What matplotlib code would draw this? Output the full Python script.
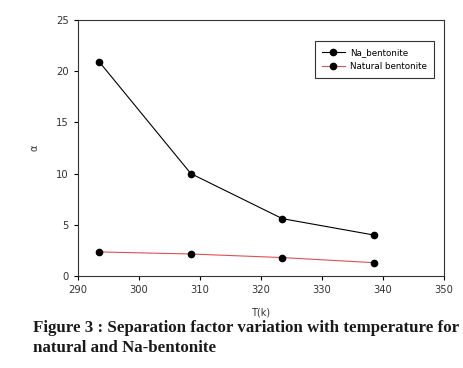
# Separation factor vs temperature

import numpy as np
import matplotlib.pyplot as plt

# data
T = [293.5, 308.5, 323.5, 338.5]
na_bentonite = [20.9, 10.0, 5.6, 4.0]
natural_bentonite = [2.35, 2.15, 1.8, 1.3]

fig = plt.figure(figsize=(4.63, 3.68), dpi=100)
ax = fig.add_axes([78/463, 1 - 276/368, (444-78)/463, (276-20)/368])

ax.plot(T, na_bentonite, color='black', lw=0.8, marker='o', ms=4.5,
        mfc='black', mec='black', label='Na_bentonite')
ax.plot(T, natural_bentonite, color='#e05050', lw=0.8, marker='o', ms=4.5,
        mfc='black', mec='black', label='Natural bentonite')

ax.set_xlim(290, 350)
ax.set_ylim(0, 25)
ax.set_xticks(np.arange(290, 351, 10))
ax.set_yticks(np.arange(0, 26, 5))
ax.tick_params(direction='out', length=3, width=0.8, labelsize=7.2, labelcolor='#333333')
for s in ax.spines.values():
    s.set_linewidth(0.8)
    s.set_color('#333333')

ax.set_xlabel('T(k)', fontsize=7, color='#333333', labelpad=9)
ax.set_ylabel('α', fontsize=7, color='#333333', labelpad=12)

leg = ax.legend(loc='upper right', bbox_to_anchor=(0.984, 0.934), fontsize=6.3,
                fancybox=False, framealpha=1, edgecolor='#333333',
                handlelength=2.6, handletextpad=0.6, borderpad=0.8, labelspacing=0.55)
leg.get_frame().set_linewidth(0.8)

fig.text(33/463, 1 - 328/368, 'Figure 3 : Separation factor variation with temperature for',
         family='Liberation Serif', weight='bold', fontsize=12.2, color='#1a1a1a', va='center')
fig.text(33/463, 1 - 348/368, 'natural and Na-bentonite',
         family='Liberation Serif', weight='bold', fontsize=12.2, color='#1a1a1a', va='center')

plt.savefig('out.png', dpi=100)
